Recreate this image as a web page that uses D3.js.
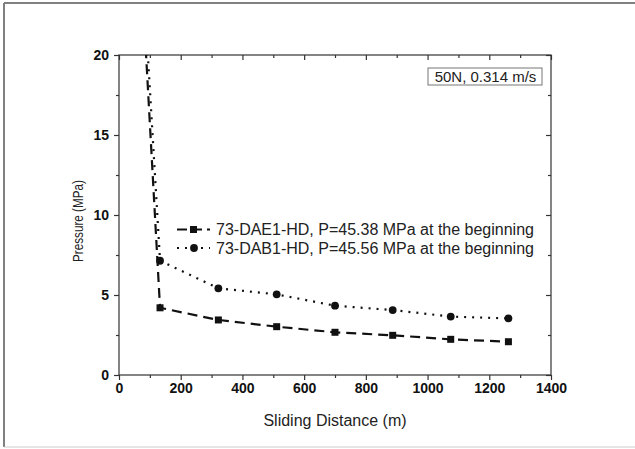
<!DOCTYPE html>
<html>
<head>
<meta charset="utf-8">
<script src="https://cdn.jsdelivr.net/npm/d3@7"></script>
<style>
  body { margin: 0; background: #fff; }
  svg { font-family: "Liberation Sans", Arial, sans-serif; }
</style>
</head>
<body>
<svg width="635" height="449"></svg>
<script>
// data
const distance = [15, 133, 322, 511, 700, 887, 1075, 1262];
const daePressure = [45.38, 4.2, 3.44, 3.02, 2.67, 2.48, 2.23, 2.08];
const dabPressure = [45.56, 7.14, 5.42, 5.04, 4.33, 4.06, 3.65, 3.54];
const legendLabels = [
  "73-DAE1-HD, P=45.38 MPa at the beginning",
  "73-DAB1-HD, P=45.56 MPa at the beginning"
];
const xTicks = [0, 200, 400, 600, 800, 1000, 1200, 1400];
const yTicks = [0, 5, 10, 15, 20];

const svg = d3.select("svg");

// figure frame
svg.append("line").attr("x1", 4).attr("y1", 3).attr("x2", 4).attr("y2", 447)
  .attr("stroke", "#808080").attr("stroke-width", 2);
svg.append("line").attr("x1", 4).attr("y1", 3).attr("x2", 635).attr("y2", 3)
  .attr("stroke", "#808080").attr("stroke-width", 2);
svg.append("line").attr("x1", 4).attr("y1", 447).attr("x2", 635).attr("y2", 447)
  .attr("stroke", "#cccccc").attr("stroke-width", 1);

const pLeft = 119, pRight = 551, pTop = 55, pBottom = 375;
const x = d3.scaleLinear().domain([0, 1400]).range([pLeft, pRight]);
const y = d3.scaleLinear().domain([0, 20]).range([pBottom, pTop]);

svg.append("defs").append("clipPath").attr("id", "plot")
  .append("rect").attr("x", pLeft).attr("y", pTop)
  .attr("width", pRight - pLeft).attr("height", pBottom - pTop);

// axes
const axisColor = "#333";
function styleAxis(g) {
  g.select(".domain").remove();
  g.selectAll("line").attr("stroke", axisColor).attr("stroke-width", 1.2);
}
function styleLabels(g) {
  g.selectAll("text").attr("font-size", 14).attr("font-weight", "bold")
    .attr("fill", "#111").attr("font-family", "Liberation Sans, Arial");
}

const xMinor = d3.range(100, 1400, 200);
const yMinor = d3.range(2.5, 20, 5);

svg.append("g").attr("transform", `translate(0,${pBottom})`)
  .call(d3.axisBottom(x).tickValues(xTicks).tickSize(5).tickPadding(3).tickFormat(d3.format("d")))
  .call(styleAxis).call(styleLabels);
svg.append("g").attr("transform", `translate(0,${pBottom})`)
  .call(d3.axisBottom(x).tickValues(xMinor).tickSize(3).tickFormat(""))
  .call(styleAxis);

svg.append("g").attr("transform", `translate(${pLeft},0)`)
  .call(d3.axisLeft(y).tickValues(yTicks).tickSize(5).tickPadding(5))
  .call(styleAxis).call(styleLabels);
svg.append("g").attr("transform", `translate(${pLeft},0)`)
  .call(d3.axisLeft(y).tickValues(yMinor).tickSize(3).tickFormat(""))
  .call(styleAxis);

// mirrored ticks on top and right, pointing inward
svg.append("g").attr("transform", `translate(0,${pTop})`)
  .call(d3.axisBottom(x).tickValues(xTicks).tickSize(5).tickFormat(""))
  .call(styleAxis);
svg.append("g").attr("transform", `translate(0,${pTop})`)
  .call(d3.axisBottom(x).tickValues(xMinor).tickSize(3).tickFormat(""))
  .call(styleAxis);
svg.append("g").attr("transform", `translate(${pRight},0)`)
  .call(d3.axisLeft(y).tickValues(yTicks).tickSize(5).tickFormat(""))
  .call(styleAxis);
svg.append("g").attr("transform", `translate(${pRight},0)`)
  .call(d3.axisLeft(y).tickValues(yMinor).tickSize(3).tickFormat(""))
  .call(styleAxis);

svg.append("rect").attr("x", pLeft).attr("y", pTop)
  .attr("width", pRight - pLeft).attr("height", pBottom - pTop)
  .attr("fill", "none").attr("stroke", axisColor).attr("stroke-width", 1.2);

// axis titles
svg.append("text").attr("x", (pLeft + pRight) / 2).attr("y", 426)
  .attr("text-anchor", "middle").attr("font-size", 16).attr("fill", "#222")
  .text("Sliding Distance (m)");
svg.append("text").attr("transform", "translate(83,221) rotate(-90)")
  .attr("text-anchor", "middle").attr("font-size", 14).attr("fill", "#222")
  .attr("textLength", 82).attr("lengthAdjust", "spacingAndGlyphs")
  .text("Pressure (MPa)");

// series
const line = d3.line().x(d => x(d[0])).y(d => y(d[1]));
const dae = distance.map((d, i) => [d, daePressure[i]]);
const dab = distance.map((d, i) => [d, dabPressure[i]]);

const plot = svg.append("g").attr("clip-path", "url(#plot)");

plot.append("path").datum(dab).attr("d", line)
  .attr("fill", "none").attr("stroke", "#111").attr("stroke-width", 2.2)
  .attr("stroke-dasharray", "2,6");
plot.append("path").datum(dae).attr("d", line)
  .attr("fill", "none").attr("stroke", "#111").attr("stroke-width", 2.2)
  .attr("stroke-dasharray", "10,6");

plot.selectAll(".sq").data(dae.slice(1)).enter().append("rect")
  .attr("x", d => x(d[0]) - 3.5).attr("y", d => y(d[1]) - 3.5)
  .attr("width", 7).attr("height", 7).attr("fill", "#111");
plot.selectAll(".ci").data(dab.slice(1)).enter().append("circle")
  .attr("cx", d => x(d[0])).attr("cy", d => y(d[1])).attr("r", 3.9)
  .attr("fill", "#111");

// legend
const legend = svg.append("g");
legendLabels.forEach((label, i) => {
  const ly = 229.5 + i * 18.5;
  legend.append("line").attr("x1", 177).attr("x2", 210).attr("y1", ly).attr("y2", ly)
    .attr("stroke", "#111").attr("stroke-width", 2.2)
    .attr("stroke-dasharray", i === 0 ? "10,5" : "2,6");
  if (i === 0) {
    legend.append("rect").attr("x", 190).attr("y", ly - 3.5)
      .attr("width", 7).attr("height", 7).attr("fill", "#111");
  } else {
    legend.append("circle").attr("cx", 194).attr("cy", ly).attr("r", 3.9).attr("fill", "#111");
  }
  legend.append("text").attr("x", 216).attr("y", ly + 5.5)
    .attr("font-size", 16).attr("fill", "#222").text(label);
});

// condition label box
svg.append("rect").attr("x", 428).attr("y", 68).attr("width", 114).attr("height", 17)
  .attr("fill", "#fff").attr("stroke", "#777").attr("stroke-width", 1);
svg.append("text").attr("x", 485.5).attr("y", 81.5).attr("text-anchor", "middle")
  .attr("font-size", 15).attr("fill", "#222").text("50N, 0.314 m/s");
</script>
</body>
</html>
